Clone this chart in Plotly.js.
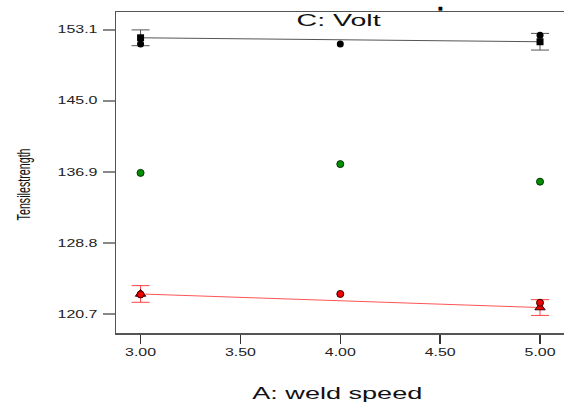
<!DOCTYPE html>
<html>
<head>
<meta charset="utf-8">
<script src="https://cdn.plot.ly/plotly-3.0.1.min.js"></script>
<style>html,body{margin:0;padding:0;background:#fff;}#chart{width:564px;height:407px;}</style>
</head>
<body>
<div id="chart"></div>
<script>
// Factor levels (A: weld speed)
const speedLevels = [3, 5];
const speedAll = [3, 4, 5];
// C high (black): predicted means, LSD half-widths, observed points
const highPred = [152.2, 151.75];
const highErr = [0.9, 0.95];
const highObs = [151.5, 151.5, 152.5];
// Centre points (green)
const centerObs = [136.8, 137.8, 135.8];
// C low (red): predicted means, LSD half-widths, observed points
const lowPred = [123.0, 121.45];
const lowErr = [0.95, 0.9];
const lowObs = [122.95, 123.0, 122.0];
// stray mark above the frame
const strayX = [4.5];
const strayY = [155.6];
// tick labels
const yTickVals = [120.7, 128.8, 136.9, 145.0, 153.1];
const yTickText = ['120.7', '128.8', '136.9', '145.0', '153.1'];
const xTickVals = [3, 3.5, 4, 4.5, 5];
const xTickText = ['3.00', '3.50', '4.00', '4.50', '5.00'];

const xRange = [2.877, 5.12];
const yRange = [118.55, 155.14];
const F = 'Liberation Sans, Arial, sans-serif';
const traces = [
  {x: speedLevels, y: highPred, mode: 'lines', line: {color: '#555', width: 1}, hoverinfo: 'skip'},
  {x: speedLevels, y: highPred, mode: 'markers', marker: {symbol: 'square', size: 7, color: '#000'},
   error_y: {type: 'data', array: highErr, visible: true, color: '#555', thickness: 1, width: 9}},
  {x: speedAll, y: highObs, mode: 'markers', marker: {symbol: 'circle', size: 7, color: '#000'}},
  {x: speedAll, y: centerObs, mode: 'markers', marker: {symbol: 'circle', size: 7, color: '#009000', line: {color: '#003000', width: 1}}},
  {x: speedLevels, y: lowPred, mode: 'lines', line: {color: '#ff5555', width: 1}, hoverinfo: 'skip'},
  {x: speedLevels, y: lowPred, mode: 'markers', marker: {symbol: 'triangle-up', size: 9, color: '#ee0000', line: {color: '#300', width: 1}},
   error_y: {type: 'data', array: lowErr, visible: true, color: '#ff4444', thickness: 1, width: 9}},
  {x: speedAll, y: lowObs, mode: 'markers', marker: {symbol: 'circle', size: 7, color: '#ee0000', line: {color: '#300', width: 1}}}
];

const layout = {
  width: 564, height: 407,
  margin: {l: 116, r: 0, t: 12, b: 74, pad: 0},
  paper_bgcolor: '#fff', plot_bgcolor: '#fff',
  showlegend: false,
  font: {family: F, color: '#222'},
  xaxis: {
    range: xRange, tickvals: xTickVals, ticktext: xTickText,
    showgrid: false, zeroline: false, showline: true, linecolor: '#555', linewidth: 1.5, mirror: true,
    ticks: 'outside', ticklen: 9, tickcolor: '#333', tickwidth: 1.5,
    tickfont: {family: F, size: 10, color: '#222'}
  },
  yaxis: {
    range: yRange, tickvals: yTickVals, ticktext: yTickText,
    showgrid: false, zeroline: false, showline: true, linecolor: '#555', linewidth: 1.5, mirror: false,
    ticks: 'outside', ticklen: 12, tickcolor: '#888', tickwidth: 1.5,
    tickfont: {family: F, size: 10, color: '#222'}, ticklabelstandoff: 3
  },
  annotations: [
    {text: 'C: Volt', xref: 'paper', yref: 'paper', x: 0.498, y: 0.975, xanchor: 'center', yanchor: 'middle', showarrow: false, font: {family: F, size: 16, color: '#111'}},
    {text: 'A: weld speed', xref: 'paper', yref: 'paper', x: 0.4955, y: -0.19, xanchor: 'center', yanchor: 'middle', showarrow: false, font: {family: F, size: 16, color: '#111'}},
    {text: 'Tensilestrength', xref: 'paper', yref: 'paper', x: -0.207, y: 0.464, xanchor: 'center', yanchor: 'middle', textangle: -90, showarrow: false, font: {family: F, size: 19, color: '#111'}},
    {text: '■', xref: 'x', yref: 'paper', x: strayX[0], y: (strayY[0] - yRange[0]) / (yRange[1] - yRange[0]),
     xanchor: 'center', yanchor: 'middle', showarrow: false, font: {family: 'DejaVu Sans, sans-serif', size: 5, color: '#000'}}
  ]
};

Plotly.newPlot('chart', traces, layout, {staticPlot: true}).then(function () {
  const lens = {'C: Volt': 84, 'A: weld speed': 170, 'Tensilestrength': 72};
  document.querySelectorAll('.annotation-text').forEach(function (t) {
    const L = lens[t.textContent];
    if (L) { t.setAttribute('textLength', L); t.setAttribute('lengthAdjust', 'spacingAndGlyphs'); }
  });
  document.querySelectorAll('.ytick text').forEach(function (t) {
    t.setAttribute('textLength', 40); t.setAttribute('lengthAdjust', 'spacingAndGlyphs');
  });
  document.querySelectorAll('.xtick text').forEach(function (t) {
    t.setAttribute('textLength', 31); t.setAttribute('lengthAdjust', 'spacingAndGlyphs');
  });
});
</script>
</body>
</html>
